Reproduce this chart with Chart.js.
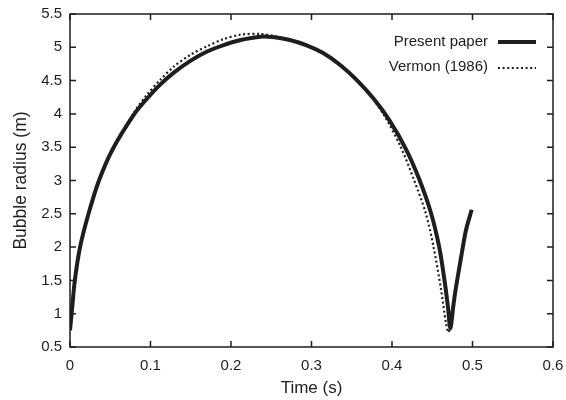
<!DOCTYPE html>
<html>
<head>
<meta charset="utf-8">
<script src="https://cdn.jsdelivr.net/npm/chart.js@4/dist/chart.umd.min.js"></script>
<style>
  html, body { margin: 0; padding: 0; background: #fff; }
  #wrap { width: 566px; height: 400px; }
</style>
</head>
<body>
<div id="wrap"><canvas id="chart1" width="566" height="400"></canvas></div>
<script>
// Dữ liệu
const presentTime = [0, 0.002, 0.006, 0.0125, 0.023, 0.036, 0.053, 0.080, 0.095, 0.112, 0.129, 0.150, 0.171, 0.190, 0.212, 0.237, 0.254, 0.273, 0.294, 0.315, 0.336, 0.356, 0.377, 0.397, 0.417, 0.4335, 0.448, 0.4585, 0.465, 0.4695, 0.4725, 0.476, 0.479, 0.486, 0.492, 0.499];
const presentRadius = [0.75, 1.0, 1.5, 2.0, 2.5, 3.0, 3.47, 4.0, 4.22, 4.44, 4.62, 4.80, 4.94, 5.03, 5.11, 5.16, 5.15, 5.11, 5.03, 4.91, 4.73, 4.51, 4.23, 3.90, 3.48, 3.03, 2.53, 2.01, 1.52, 1.1, 0.78, 1.1, 1.36, 1.86, 2.26, 2.56];

const vermonTime = [0, 0.002, 0.006, 0.0125, 0.023, 0.036, 0.053, 0.080, 0.095, 0.112, 0.129, 0.150, 0.171, 0.190, 0.212, 0.237, 0.254, 0.275, 0.296, 0.317, 0.337, 0.355, 0.372, 0.3906, 0.4106, 0.4273, 0.4419, 0.4515, 0.461, 0.467, 0.4705, 0.476, 0.479, 0.486, 0.492, 0.499];
const vermonRadius = [0.75, 1.0, 1.5, 2.0, 2.5, 3.0, 3.47, 4.03, 4.28, 4.51, 4.71, 4.89, 5.02, 5.12, 5.19, 5.20, 5.17, 5.10, 5.02, 4.90, 4.73, 4.53, 4.30, 3.97, 3.51, 3.01, 2.51, 2.01, 1.36, 0.86, 0.72, 1.1, 1.36, 1.86, 2.26, 2.56];

const seriesLabels = ['Present paper', 'Vermon (1986)'];
const xTicks = [0, 0.1, 0.2, 0.3, 0.4, 0.5, 0.6];
const yTicks = [0.5, 1, 1.5, 2, 2.5, 3, 3.5, 4, 4.5, 5, 5.5];

const FONT = 'Liberation Sans, Arial, Helvetica, sans-serif';
const INK = '#1e1e1e';

const toPoints = (xs, ys) => xs.map((x, i) => ({ x: x, y: ys[i] }));

// Khung, vạch chia hướng vào trong và chú thích kiểu gnuplot
const framePlugin = {
  id: 'frame',
  afterDraw(chart) {
    const { ctx, chartArea: a, scales } = chart;
    const len = 6;
    ctx.save();
    ctx.strokeStyle = INK;
    ctx.lineWidth = 1.5;
    ctx.strokeRect(a.left, a.top, a.right - a.left, a.bottom - a.top);
    ctx.beginPath();
    xTicks.forEach(v => {
      const px = scales.x.getPixelForValue(v);
      ctx.moveTo(px, a.bottom); ctx.lineTo(px, a.bottom - len);
      ctx.moveTo(px, a.top); ctx.lineTo(px, a.top + len);
    });
    yTicks.forEach(v => {
      const py = scales.y.getPixelForValue(v);
      ctx.moveTo(a.left, py); ctx.lineTo(a.left + len, py);
      ctx.moveTo(a.right, py); ctx.lineTo(a.right - len, py);
    });
    ctx.stroke();

    // chú thích
    ctx.font = '15px ' + FONT;
    ctx.textAlign = 'right';
    ctx.textBaseline = 'middle';
    chart.data.datasets.forEach((ds, i) => {
      const y = 42 + i * 25;
      ctx.fillStyle = INK;
      ctx.fillText(ds.label, a.right - 65, y);
      ctx.beginPath();
      ctx.strokeStyle = ds.borderColor;
      ctx.lineWidth = ds.borderWidth;
      ctx.setLineDash(ds.borderDash || []);
      ctx.moveTo(a.right - 55, y + (i ? 1 : 0));
      ctx.lineTo(a.right - 17, y + (i ? 1 : 0));
      ctx.stroke();
      ctx.setLineDash([]);
    });
    ctx.restore();
  }
};

new Chart('chart1', {
  type: 'line',
  data: {
    datasets: [{
      label: seriesLabels[0],
      data: toPoints(presentTime, presentRadius),
      borderColor: INK,
      borderWidth: 4,
      pointRadius: 0,
      tension: 0.3,
      order: 1
    }, {
      label: seriesLabels[1],
      data: toPoints(vermonTime, vermonRadius),
      borderColor: INK,
      borderWidth: 2.2,
      borderDash: [2, 2.6],
      pointRadius: 0,
      tension: 0.3,
      order: 0
    }]
  },
  options: {
    responsive: false,
    animation: false,
    layout: { padding: { top: 14, right: 13, left: 0, bottom: 0 } },
    plugins: {
      legend: { display: false },
      tooltip: { enabled: false }
    },
    scales: {
      x: {
        type: 'linear',
        min: 0,
        max: 0.6,
        afterBuildTicks: s => { s.ticks = xTicks.map(v => ({ value: v })); },
        afterFit: s => {
          s.height = 53;
          s.paddingLeft = 0;
          s.paddingRight = 0;
        },
        grid: { display: false, drawTicks: false },
        border: { display: false },
        ticks: {
          color: INK,
          font: { family: FONT, size: 15 },
          padding: 10,
          maxRotation: 0,
          callback: v => String(Math.round(v * 10) / 10)
        },
        title: {
          display: true,
          text: 'Time (s)',
          color: INK,
          font: { family: FONT, size: 17 },
          padding: { top: 0, bottom: 1 }
        }
      },
      y: {
        min: 0.5,
        max: 5.5,
        afterBuildTicks: s => { s.ticks = yTicks.map(v => ({ value: v })); },
        afterFit: s => {
          s.width = 70;
          s.paddingTop = 0;
          s.paddingBottom = 0;
        },
        grid: { display: false, drawTicks: false },
        border: { display: false },
        ticks: {
          color: INK,
          font: { family: FONT, size: 15 },
          padding: 8,
          callback: v => String(v)
        },
        title: {
          display: true,
          text: 'Bubble radius (m)',
          color: INK,
          font: { family: FONT, size: 17.5 },
          padding: { top: 11, bottom: 0 }
        }
      }
    }
  },
  plugins: [framePlugin]
});
</script>
</body>
</html>
